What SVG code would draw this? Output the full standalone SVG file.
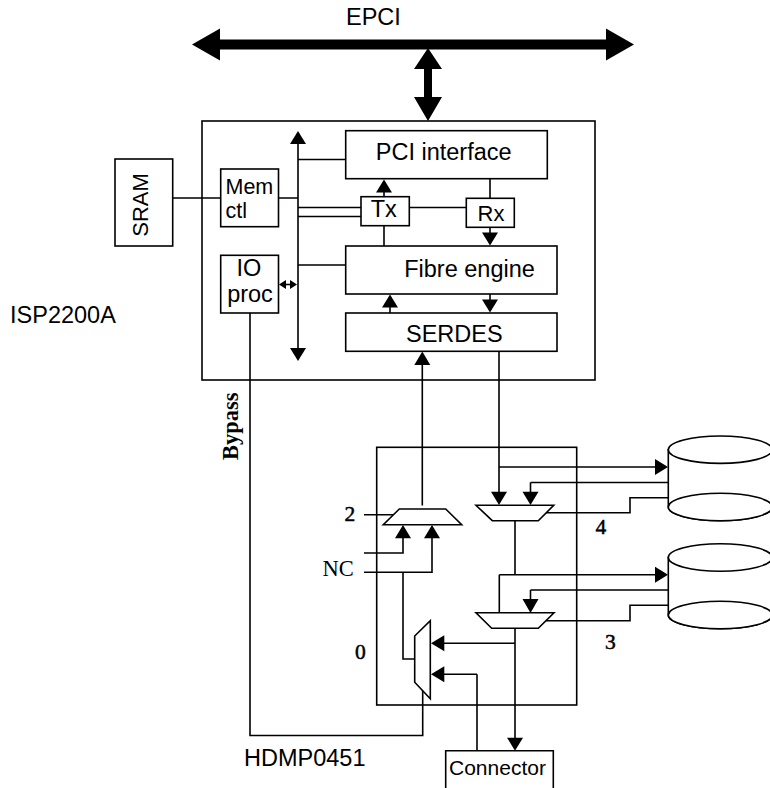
<svg xmlns="http://www.w3.org/2000/svg" width="770" height="788" viewBox="0 0 770 788">
<style>
.b{fill:#fff;stroke:#000;stroke-width:1.6}
.l{fill:none;stroke:#000;stroke-width:1.6}
.a{fill:#000;stroke:none}
text{font-family:"Liberation Sans",Arial,sans-serif;fill:#000}
.t{font-size:23.5px}
.m{font-size:21.5px}
.f{font-family:"Liberation Serif","Times New Roman",serif;font-size:22.5px}
.d{font-family:"Liberation Serif","Times New Roman",serif;font-size:21.5px;stroke:#000;stroke-width:.5}
.fb{font-family:"Liberation Serif","Times New Roman",serif;font-size:22.5px;font-weight:bold}
</style>
<rect width="770" height="788" fill="#fff"/>
<g id="connectors">
<polygon class="a" points="192,44.5 220,28.5 220,39.5 606,39.5 606,28.5 634,44.5 606,60.5 606,49.5 220,49.5 220,60.5"/>
<polygon class="a" points="428,48 442,69 432,69 432,97 442,97 428,121 414,97 424,97 424,69 414,69"/>
<path class="l" d="M173 198H221M279 198H298M298 140V350M298 159.500H346M298 207.500H361M298 216.500H361M298 265H346M409 207.500H466M384 190V197M384 226V246M490 179V198M490 227V234M390 305V313M490 294V301"/>
<polygon class="a" points="298,131 306,144 290,144"/>
<polygon class="a" points="298,361 306,348 290,348"/>
<polygon class="a" points="384,179.500 392,192.500 376,192.500"/>
<polygon class="a" points="490,245.500 498,232.500 482,232.500"/>
<polygon class="a" points="390,294.500 398,307.500 382,307.500"/>
<polygon class="a" points="490,312.500 498,299.500 482,299.500"/>
<path class="l" d="M285 284.500H291"/>
<polygon class="a" points="279,284.500 286,280 286,289"/>
<polygon class="a" points="297,284.500 290,280 290,289"/>
<path class="l" d="M250 313V735.500H422.700V687"/>
<path class="l" d="M422.300 362V505.500M499 351V493M499 467H657M530.500 482.500H668M530.500 482.500V493M546 512.700H630V497.700H668M515 521V574.700M499.300 574.700H657M499.300 574.700V613M530.500 590H668M530.500 590V601M546 620.700H630V605.300H668M515 628V739M515 643.300H443M477 674.300H443M477 674.300V751"/>
<path class="l" d="M364 514.700H393M364 553H403V537M364 572.300H432V537M403 572.300V659H414.500"/>
<polygon class="a" points="422.300,351.500 430.300,365 414.300,365"/>
<polygon class="a" points="499,505 507,491.700 491,491.700"/>
<polygon class="a" points="530.500,505 538.500,491.700 522.500,491.700"/>
<polygon class="a" points="530.500,613 538.500,599 522.500,599"/>
<polygon class="a" points="668,467 655,459 655,475"/>
<polygon class="a" points="668,574.700 655,566.700 655,582.700"/>
<polygon class="a" points="403,525 411,538.300 395,538.300"/>
<polygon class="a" points="432,525 440,538.300 424,538.300"/>
<polygon class="a" points="431,643.300 444.300,635.300 444.300,651.300"/>
<polygon class="a" points="431,674.300 444.300,666.300 444.300,682.300"/>
<polygon class="a" points="515,750.700 523,737.700 507,737.700"/>
</g>
<g id="chip"><rect x="202" y="121" width="393" height="259" fill="none" stroke="#000" stroke-width="1.6"/></g>
<g id="switch"><rect x="376.700" y="447.300" width="200" height="257.700" fill="none" stroke="#000" stroke-width="1.6"/></g>
<g id="sram"><rect class="b" x="115" y="159" width="57.700" height="87"/><text class="t" transform="translate(148 205) rotate(-90)" text-anchor="middle" style="font-size:22px">SRAM</text></g>
<g id="memctl"><rect class="b" x="220.700" y="169" width="57.800" height="57.700"/><text class="m" x="225.500" y="194">Mem</text><text class="m" x="225.500" y="218">ctl</text></g>
<g id="ioproc"><rect class="b" x="220.700" y="255.300" width="57.800" height="57.700"/><text class="t" x="249" y="275.500" text-anchor="middle">IO</text><text class="t" x="250" y="302" text-anchor="middle">proc</text></g>
<g id="pci"><rect class="b" x="345.700" y="130.700" width="201.600" height="48"/><text class="t" x="443.700" y="160" text-anchor="middle">PCI interface</text></g>
<g id="tx"><rect class="b" x="361" y="196.700" width="48.300" height="29"/><text class="t" x="383.700" y="216.500" text-anchor="middle">Tx</text></g>
<g id="rx"><rect class="b" x="466.300" y="198.300" width="48" height="29"/><text class="m" x="491" y="220.500" text-anchor="middle" style="font-size:22px">Rx</text></g>
<g id="fibre"><rect class="b" x="345.700" y="246" width="211.300" height="48"/><text class="t" x="469.500" y="277.300" text-anchor="middle">Fibre engine</text></g>
<g id="serdes"><rect class="b" x="345.700" y="313" width="211.300" height="38.300"/><text class="t" x="454.300" y="341.500" text-anchor="middle">SERDES</text></g>
<g id="mux1"><polygon class="b" points="399.300,509 445.700,509 461.700,524.700 383.300,524.700"/></g>
<g id="mux2"><polygon class="b" points="476,505.300 553.700,505.300 538.300,520.700 492.300,520.700"/></g>
<g id="mux3"><polygon class="b" points="476,612.700 554,612.700 538.300,628.300 491.700,628.300"/></g>
<g id="mux4"><polygon class="b" points="430.300,620.700 430.300,698.700 414.700,682.300 414.700,636"/></g>
<g id="disk1"><path class="b" d="M668.300 449.700V507A52 13.700 0 0 0 772.300 507V449.700Z"/><ellipse class="b" cx="720.300" cy="449.700" rx="52" ry="13.700"/><ellipse class="b" cx="720.300" cy="507" rx="52" ry="13.700"/></g>
<g id="disk2"><path class="b" d="M668.300 557.500V615A52 13.700 0 0 0 772.300 615V557.500Z"/><ellipse class="b" cx="720.300" cy="557.500" rx="52" ry="13.700"/><ellipse class="b" cx="720.300" cy="615" rx="52" ry="13.700"/></g>
<g id="connector"><path class="b" d="M445.700 788V750.700H553.300V788"/><text x="449" y="775" style="font-size:21px">Connector</text></g>
<g id="labels">
<text class="t" x="346" y="25">EPCI</text>
<text class="t" x="10" y="322.700">ISP2200A</text>
<text class="t" x="244" y="765.700">HDMP0451</text>
<text class="fb" transform="translate(238.300 460) rotate(-90)">Bypass</text>
<text class="d" x="344.500" y="521">2</text>
<text class="f" x="322.500" y="576">NC</text>
<text class="d" x="355" y="659">0</text>
<text class="d" x="595.500" y="534.300">4</text>
<text class="d" x="605" y="648.700">3</text>
</g>
</svg>
